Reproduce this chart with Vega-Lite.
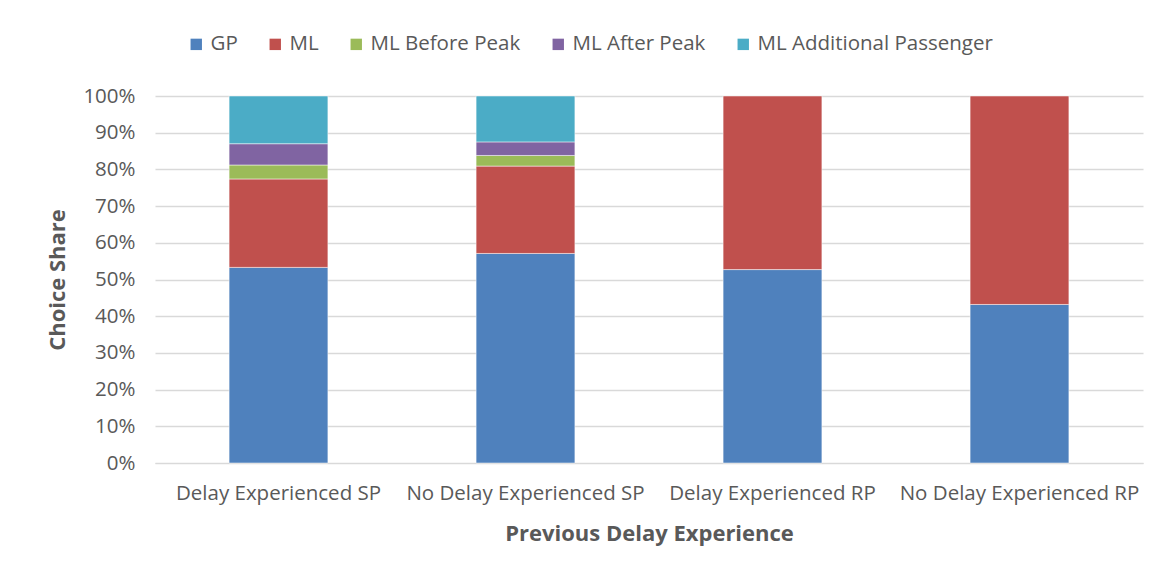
{
  "$schema": "https://vega.github.io/schema/vega-lite/v6.json",
  "width": 988,
  "height": 367,
  "autosize": {"type": "none"},
  "padding": {"left": 155, "top": 96, "right": 25, "bottom": 112},
  "background": "white",
  "data": {
    "values": [
      {"cat": "Delay Experienced SP", "series": "GP", "o": 1, "v": 53.3},
      {"cat": "Delay Experienced SP", "series": "ML", "o": 2, "v": 24.1},
      {"cat": "Delay Experienced SP", "series": "ML Before Peak", "o": 3, "v": 3.8},
      {"cat": "Delay Experienced SP", "series": "ML After Peak", "o": 4, "v": 5.8},
      {"cat": "Delay Experienced SP", "series": "ML Additional Passenger", "o": 5, "v": 13.0},
      {"cat": "No Delay Experienced SP", "series": "GP", "o": 1, "v": 57.1},
      {"cat": "No Delay Experienced SP", "series": "ML", "o": 2, "v": 23.8},
      {"cat": "No Delay Experienced SP", "series": "ML Before Peak", "o": 3, "v": 2.9},
      {"cat": "No Delay Experienced SP", "series": "ML After Peak", "o": 4, "v": 3.7},
      {"cat": "No Delay Experienced SP", "series": "ML Additional Passenger", "o": 5, "v": 12.5},
      {"cat": "Delay Experienced RP", "series": "GP", "o": 1, "v": 52.7},
      {"cat": "Delay Experienced RP", "series": "ML", "o": 2, "v": 47.3},
      {"cat": "No Delay Experienced RP", "series": "GP", "o": 1, "v": 43.2},
      {"cat": "No Delay Experienced RP", "series": "ML", "o": 2, "v": 56.8}
    ]
  },
  "mark": {"type": "bar", "stroke": "white", "strokeWidth": 0.5},
  "encoding": {
    "x": {
      "field": "cat", "type": "nominal", "sort": null,
      "scale": {"paddingInner": 0.6, "paddingOuter": 0.3},
      "axis": {
        "title": "Previous Delay Experience", "labelAngle": 0, "ticks": false,
        "labelPadding": 20, "titlePadding": 20, "domainColor": "#d9d9d9",
        "labelFontSize": 20.5, "titleFontSize": 22, "titleFontWeight": "bold",
        "labelColor": "#595959", "titleColor": "#595959", "labelLimit": 0
      }
    },
    "y": {
      "field": "v", "type": "quantitative", "stack": "zero",
      "scale": {"domain": [0, 100]},
      "axis": {
        "title": "Choice Share", "values": [0,10,20,30,40,50,60,70,80,90,100],
        "labelExpr": "datum.value + '%'", "ticks": false, "domain": false, "labelOverlap": false,
        "gridColor": "#d9d9d9", "gridWidth": 1.5, "labelPadding": 20, "titlePadding": 13,
        "labelFontSize": 20.5, "titleFontSize": 22, "titleFontWeight": "bold",
        "labelColor": "#595959", "titleColor": "#595959"
      }
    },
    "color": {
      "field": "series", "type": "nominal",
      "scale": {
        "domain": ["GP", "ML", "ML Before Peak", "ML After Peak", "ML Additional Passenger"],
        "range": ["#4F81BD", "#C0504D", "#9BBB59", "#8064A2", "#4BACC6"]
      },
      "legend": {
        "title": null, "orient": "none", "direction": "horizontal",
        "legendX": 31, "legendY": -62, "symbolType": "square", "symbolSize": 130,
        "symbolStrokeWidth": 0, "labelFontSize": 20.5, "labelColor": "#595959",
        "columnPadding": 27, "labelOffset": 4, "labelLimit": 0
      }
    },
    "order": {"field": "o", "type": "quantitative"}
  },
  "config": {
    "font": "Open Sans",
    "view": {"stroke": null}
  }
}
